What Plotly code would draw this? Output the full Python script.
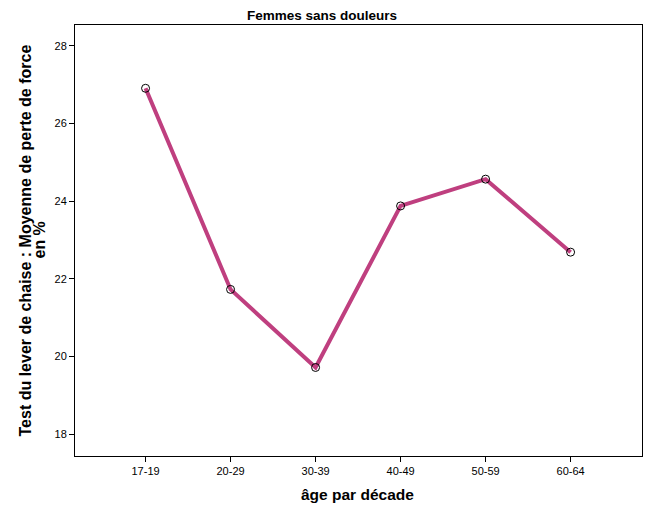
import plotly.graph_objects as go

categories = ["17-19", "20-29", "30-39", "40-49", "50-59", "60-64"]
values = [26.91, 21.73, 19.72, 23.88, 24.57, 22.69]
y_ticks = [18, 20, 22, 24, 26, 28]

FONT = "Liberation Sans, Arial, sans-serif"

# page body has an 8px margin; size the figure so it fits the 660x506 window
W, H = 652, 498
L, R, T, B = 67, 18, 17, 50
PW = W - L - R

fig = go.Figure()
fig.add_trace(go.Scatter(
    x=list(range(len(categories))),
    y=values,
    mode="lines+markers",
    line=dict(color="#BF3F7F", width=4),
    marker=dict(size=8, color="rgba(0,0,0,0)", line=dict(color="black", width=1)),
    showlegend=False,
))

fig.update_layout(
    width=W, height=H,
    margin=dict(l=L, r=R, t=T, b=B),
    paper_bgcolor="white", plot_bgcolor="white",
    font=dict(family=FONT, color="black", size=11),
    xaxis=dict(
        range=[-0.83, 5.84],
        tickmode="array",
        tickvals=list(range(len(categories))),
        ticktext=categories,
        ticks="outside", ticklen=5, tickwidth=1, tickcolor="black",
        showline=True, linecolor="black", linewidth=1, mirror=True,
        showgrid=False, zeroline=False,
        tickfont=dict(size=11),
    ),
    yaxis=dict(
        range=[17.44, 28.54],
        tickmode="array",
        tickvals=y_ticks,
        ticks="outside", ticklen=5, tickwidth=1, tickcolor="black",
        showline=True, linecolor="black", linewidth=1, mirror=True,
        showgrid=False, zeroline=False,
        tickfont=dict(size=11),
    ),
    annotations=[
        dict(text="<b>Femmes sans douleurs</b>", xref="paper", yref="paper",
             x=(322 - 8 - L) / PW, y=1, yshift=0,
             xanchor="center", yanchor="bottom", showarrow=False,
             font=dict(size=13.5, family=FONT)),
        dict(text="<b>âge par décade</b>", xref="paper", yref="paper",
             x=(357 - 8 - L) / PW, y=0, yshift=-28,
             xanchor="center", yanchor="top", showarrow=False,
             font=dict(size=15.5, family=FONT)),
        dict(text="<b>Test du lever de chaise : Moyenne de perte de force</b>",
             xref="paper", yref="paper", x=0, xshift=-50, y=0.5,
             xanchor="center", yanchor="middle", textangle=-90, showarrow=False,
             font=dict(size=16, family=FONT)),
        dict(text="<b>en %</b>",
             xref="paper", yref="paper", x=0, xshift=-36, y=0.5,
             xanchor="center", yanchor="middle", textangle=-90, showarrow=False,
             font=dict(size=16, family=FONT)),
    ],
)

fig.write_html("out.html")
